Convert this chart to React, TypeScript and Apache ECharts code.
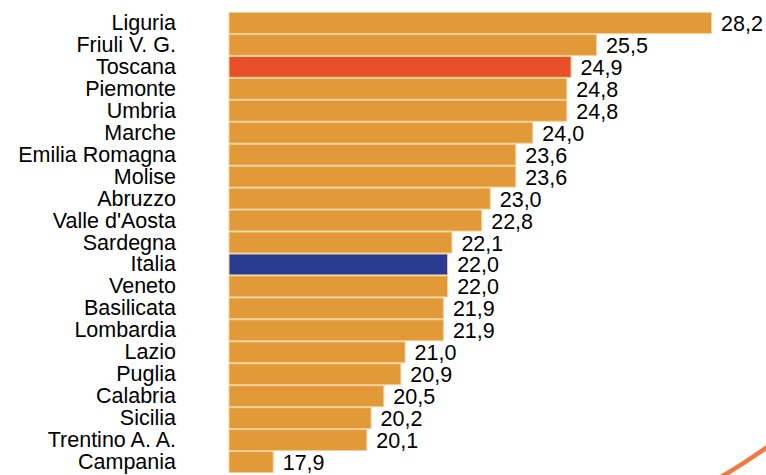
import React, { useEffect, useRef } from "react";
import * as echarts from "echarts";

const regions = [
  "Liguria", "Friuli V. G.", "Toscana", "Piemonte", "Umbria", "Marche",
  "Emilia Romagna", "Molise", "Abruzzo", "Valle d'Aosta", "Sardegna", "Italia",
  "Veneto", "Basilicata", "Lombardia", "Lazio", "Puglia", "Calabria",
  "Sicilia", "Trentino A. A.", "Campania",
];
const values = [
  28.2, 25.5, 24.9, 24.8, 24.8, 24.0, 23.6, 23.6, 23.0, 22.8, 22.1, 22.0,
  22.0, 21.9, 21.9, 21.0, 20.9, 20.5, 20.2, 20.1, 17.9,
];
const highlight: Record<string, string> = { Toscana: "#E8502A", Italia: "#293B8F" };
const baseColor = "#E29A38";
const FONT = "Liberation Sans";

export default function App() {
  const ref = useRef<HTMLDivElement>(null);
  useEffect(() => {
    if (!ref.current) return;
    const chart = echarts.init(ref.current, null, { renderer: "svg" });
    chart.setOption({
      animation: false,
      backgroundColor: "#ffffff",
      grid: { left: 229, top: 12, width: 483, height: 461, containLabel: false },
      xAxis: {
        type: "value",
        min: 16.85,
        max: 28.2,
        show: false,
      },
      yAxis: {
        type: "category",
        data: regions,
        inverse: true,
        axisLine: { show: false },
        axisTick: { show: false },
        axisLabel: {
          interval: 0,
          margin: 53,
          fontSize: 21.5,
          lineHeight: 20,
          fontFamily: FONT,
          color: "#000000",
        },
      },
      series: [
        {
          type: "bar",
          barCategoryGap: "0%",
          data: values.map((v, i) => ({
            value: v,
            itemStyle: { color: highlight[regions[i]] || baseColor },
          })),
          itemStyle: { borderColor: "#F3CF98", borderWidth: 1 },
          label: {
            show: true,
            position: "right",
            distance: 9,
            offset: [0, 1],
            fontSize: 21.5,
            lineHeight: 20,
            fontFamily: FONT,
            color: "#000000",
            formatter: (p: any) => Number(p.value).toFixed(1).replace(".", ","),
          },
        },
      ],
      graphic: [
        {
          type: "bezierCurve",
          shape: { x1: 719, y1: 478, x2: 770, y2: 445, cpx1: 735, cpy1: 469, cpx2: 752, cpy2: 458 },
          style: { stroke: "#F07B3F", lineWidth: 4.5, fill: "none" },
          silent: true,
        },
      ],
    });
    return () => chart.dispose();
  }, []);
  return (
    <div
      ref={ref}
      style={{ position: "fixed", left: 0, top: 0, width: 766, height: 475 }}
    />
  );
}
